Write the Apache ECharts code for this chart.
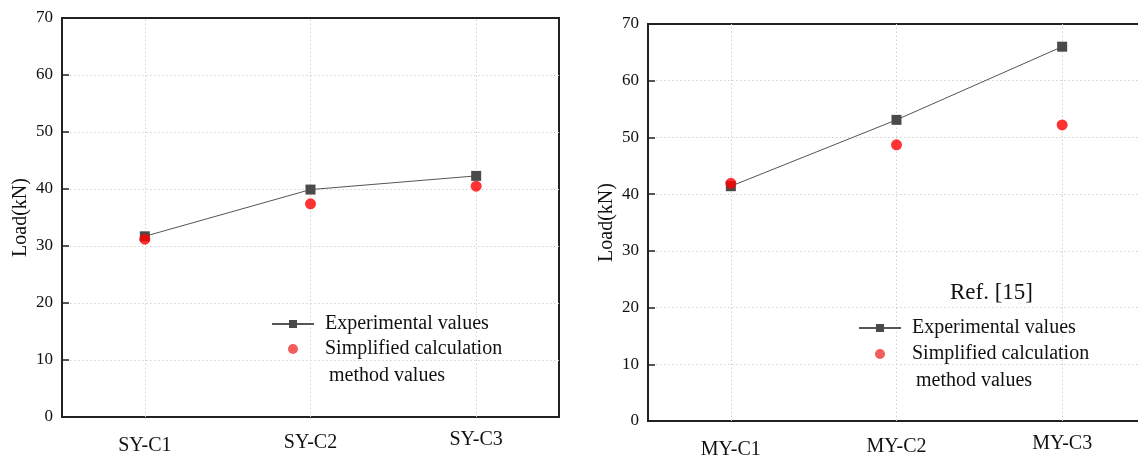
<!DOCTYPE html>
<html>
<head>
<meta charset="utf-8">
<script src="https://cdn.jsdelivr.net/npm/echarts@6/dist/echarts.min.js"></script>
<style>
  html, body { margin: 0; padding: 0; background: #fff; }
  #chart { width: 1138px; height: 459px; }
</style>
</head>
<body>
<div id="chart"></div>
<script>
// Specimen groups
const syCategories = ['SY-C1', 'SY-C2', 'SY-C3'];
const myCategories = ['MY-C1', 'MY-C2', 'MY-C3'];

// Peak loads (kN)
const syExperimental = [31.7, 39.9, 42.3];
const sySimplified = [31.2, 37.4, 40.5];
const myExperimental = [41.4, 53.1, 66.0];
const mySimplified = [41.9, 48.7, 52.2];

const yTicks = [0, 10, 20, 30, 40, 50, 60, 70];

const EXP_NAME = 'Experimental values';
const SIM_NAME = 'Simplified calculation method values';
const FONT = '"Liberation Serif", "DejaVu Serif", serif';
const GRID_LINE = { color: '#d0d0d0', type: [1.5, 2.5], width: 1 };

const chart = echarts.init(document.getElementById('chart'), null, { renderer: 'canvas' });

function xAxisFor(gridIndex, cats) {
  const offs = [6, 3, 0];
  const rich = {};
  offs.forEach((p, i) => {
    rich['c' + i] = { padding: [p, 0, 0, 0], fontFamily: FONT, fontSize: 20, color: '#111' };
  });
  return {
    type: 'category',
    gridIndex,
    data: cats,
    boundaryGap: true,
    axisLine: { lineStyle: { color: '#222', width: 2 } },
    axisTick: { alignWithLabel: true, inside: true, length: 7, lineStyle: { color: '#222', width: 1.5 } },
    splitLine: { show: false },
    axisLabel: {
      margin: 13,
      fontFamily: FONT,
      fontSize: 20,
      color: '#111',
      formatter: (v, i) => '{c' + i + '|' + v + '}',
      rich
    }
  };
}

function yAxisFor(gridIndex) {
  return {
    type: 'value',
    gridIndex,
    min: yTicks[0],
    max: yTicks[yTicks.length - 1],
    interval: yTicks[1] - yTicks[0],
    name: 'Load(kN)',
    nameLocation: 'middle',
    nameGap: 31,
    nameTextStyle: { fontFamily: FONT, fontSize: 20, color: '#111' },
    axisLine: { show: true, lineStyle: { color: '#222', width: 2 } },
    axisTick: { show: true, inside: true, length: 7, lineStyle: { color: '#222', width: 1.5 } },
    axisLabel: { margin: 9, fontFamily: FONT, fontSize: 17, color: '#111' },
    splitLine: { show: true, showMinLine: false, showMaxLine: false, lineStyle: GRID_LINE }
  };
}

// Dotted vertical guides at each specimen, kept beneath the markers
function guideSeries(idx, cats) {
  return {
    name: 'guides-' + idx,
    type: 'line',
    xAxisIndex: idx,
    yAxisIndex: idx,
    data: [],
    silent: true,
    z: 1,
    markLine: {
      silent: true,
      z: 1,
      symbol: 'none',
      label: { show: false },
      lineStyle: GRID_LINE,
      emphasis: { disabled: true },
      data: cats.map(c => ({ xAxis: c }))
    }
  };
}

function seriesFor(idx, cats, exp, sim) {
  return [
    guideSeries(idx, cats),
    {
      name: EXP_NAME,
      type: 'line',
      xAxisIndex: idx,
      yAxisIndex: idx,
      data: exp,
      symbol: 'rect',
      symbolSize: 10,
      itemStyle: { color: '#4a4a4a' },
      lineStyle: { color: '#555', width: 1 },
      z: 3
    },
    {
      name: SIM_NAME,
      type: 'scatter',
      xAxisIndex: idx,
      yAxisIndex: idx,
      data: sim,
      symbol: 'circle',
      symbolSize: 11,
      itemStyle: { color: '#ff0000' },
      z: 4
    }
  ];
}

function legendFor(left, top, lineHeight) {
  return {
    orient: 'vertical',
    left,
    top,
    padding: 0,
    itemGap: 0,
    itemWidth: 42,
    itemHeight: 10,
    selectedMode: false,
    textStyle: { fontFamily: FONT, fontSize: 20, color: '#111', lineHeight, padding: [0, 0, 0, 6] },
    formatter: name => (name === SIM_NAME ? 'Simplified calculation' : name),
    data: [
      { name: EXP_NAME },
      { name: SIM_NAME, itemStyle: { color: '#ef3535' } }
    ]
  };
}

function secondLine(x, y) {
  return {
    type: 'text',
    x,
    y,
    silent: true,
    style: { text: 'method values', fontFamily: FONT, fontSize: 20, fill: '#111', verticalAlign: 'middle' }
  };
}

const option = {
  backgroundColor: '#fff',
  animation: false,
  grid: [
    { left: 62, top: 18, width: 497, height: 399, show: true, borderColor: '#222', borderWidth: 2, outerBoundsMode: 'none' },
    { left: 648, top: 24, width: 497, height: 397, show: true, borderColor: '#222', borderWidth: 2, outerBoundsMode: 'none' }
  ],
  xAxis: [xAxisFor(0, syCategories), xAxisFor(1, myCategories)],
  yAxis: [yAxisFor(0), yAxisFor(1)],
  legend: [legendFor(271, 311.5, 25), legendFor(858, 315, 26)],
  graphic: [
    secondLine(329, 376),
    secondLine(916, 381),
    {
      type: 'text',
      x: 950,
      y: 293,
      silent: true,
      style: { text: 'Ref. [15]', fontFamily: FONT, fontSize: 23, fill: '#111', verticalAlign: 'middle' }
    }
  ],
  series: [
    ...seriesFor(0, syCategories, syExperimental, sySimplified),
    ...seriesFor(1, myCategories, myExperimental, mySimplified)
  ]
};

chart.setOption(option);
</script>
</body>
</html>
